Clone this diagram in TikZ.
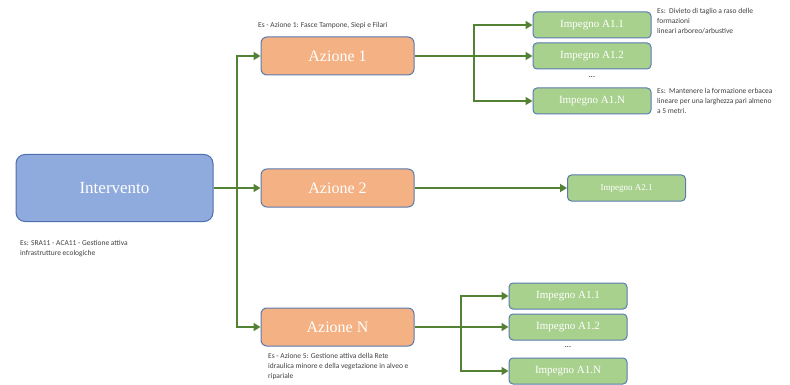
\documentclass[tikz,border=0pt]{standalone}
\usepackage{fontspec}
\setmainfont{Liberation Serif}
\newfontfamily\notefont{Carlito}
\usetikzlibrary{arrows.meta}
\definecolor{bluefill}{HTML}{8FAADC}
\definecolor{blueedge}{HTML}{4F6FAD}
\definecolor{orangefill}{HTML}{F4B183}
\definecolor{greenfill}{HTML}{A9D18E}
\definecolor{boxedge}{HTML}{5A7AAE}
\definecolor{linegreen}{HTML}{548235}
\definecolor{notegray}{HTML}{404040}
\tikzset{
  mainbox/.style={draw=blueedge, fill=bluefill, line width=1pt, rounded corners=9pt,
    minimum width=197pt, minimum height=67pt, text=white, font=\fontsize{17}{20}\selectfont},
  actbox/.style={draw=boxedge, fill=orangefill, line width=1pt, rounded corners=6pt,
    minimum width=153pt, minimum height=38pt, text=white, font=\fontsize{16}{19}\selectfont},
  taskbox/.style={draw=boxedge, fill=greenfill, line width=1pt, rounded corners=4pt,
    minimum width=118pt, minimum height=26pt, text=white, font=\fontsize{11}{13}\selectfont},
  note/.style={align=left, anchor=north west, inner sep=0pt, text=notegray,
    font=\notefont\fontsize{7.5}{10}\selectfont},
  dots/.style={inner sep=0pt, text=black, font=\notefont\fontsize{8}{9}\selectfont},
  link/.style={draw=linegreen, line width=2.8pt},
  flow/.style={link, -{Triangle[length=7pt,width=8pt]}},
}
\begin{document}
\begin{tikzpicture}[x=1pt,y=-1pt]
\useasboundingbox (0,0) rectangle (790,385);

% top level
\node[mainbox] (int) at (114.5,188) {Intervento};
\node[note] (intnote) at (20,240) {Es: SRA11 - ACA11 - Gestione attiva\\infrastrutture ecologiche};

% actions
\node[actbox] (az1) at (337.5,56) {Azione 1};
\node[actbox] (az2) at (337.5,188) {Azione 2};
\node[actbox] (azN) at (337.5,327) {Azione N};
\node[note] (az1note) at (258,22) {Es - Azione 1: Fasce Tampone, Siepi e Filari};
\node[note] (azNnote) at (268,353) {Es - Azione 5: Gestione attiva della Rete\\idraulica minore e della vegetazione in alveo e\\ripariale};

% commitments of action 1
\node[taskbox] (i11) at (592,25) {Impegno A1.1};
\node[taskbox] (i12) at (592,56) {Impegno A1.2};
\node[dots] (d1) at (592,77) {...};
\node[taskbox] (i1N) at (592,101) {Impegno A1.N};
\node[note] (i11note) at (657,8) {Es:\ \ Divieto di taglio a raso delle\\formazioni\\lineari arboreo/arbustive};
\node[note] (i1Nnote) at (657,88) {Es:\ \ Mantenere la formazione erbacea\\lineare per una larghezza pari almeno\\a 5 metri.};

% commitment of action 2
\node[taskbox, font=\fontsize{9}{11}\selectfont] (i21) at (626.5,188) {Impegno A2.1};

% commitments of action N
\node[taskbox] (n11) at (568,296) {Impegno A1.1};
\node[taskbox] (n12) at (568,327) {Impegno A1.2};
\node[dots] (d2) at (568,347) {...};
\node[taskbox] (n1N) at (568,371) {Impegno A1.N};

% junction points
\coordinate (j0) at (237,188);
\coordinate (j1) at (474,56);
\coordinate (jN) at (461,327);

% connectors
\draw[flow] (int.east) -- (az2.west);
\draw[flow] (j0) |- (az1.west);
\draw[flow] (j0) |- (azN.west);

\draw[link] (az1.east) -- (j1);
\draw[flow] (j1) |- (i11.west);
\draw[flow] (j1) -- (i12.west);
\draw[flow] (j1) |- (i1N.west);

\draw[flow] (az2.east) -- (i21.west);

\draw[link] (azN.east) -- (jN);
\draw[flow] (jN) |- (n11.west);
\draw[flow] (jN) -- (n12.west);
\draw[flow] (jN) |- (n1N.west);
\end{tikzpicture}
\end{document}
